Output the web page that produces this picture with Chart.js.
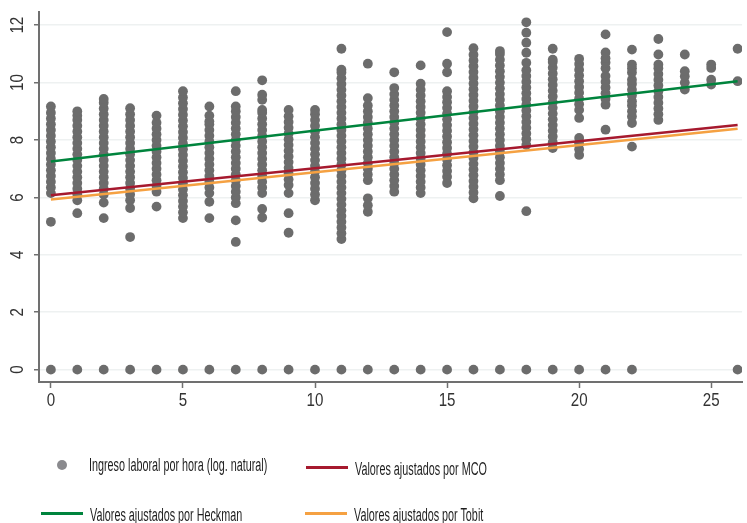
<!DOCTYPE html>
<html>
<head>
<meta charset="utf-8">
<script src="https://cdn.jsdelivr.net/npm/chart.js@4.4.1/dist/chart.umd.min.js"></script>
<style>
    body { margin: 0; background: #fff; }
    #wrap { position: relative; width: 747px; height: 523px; overflow: hidden; }
    .leg-txt {
        position: absolute; white-space: nowrap; font-family: "Liberation Sans", Arial, sans-serif;
        font-size: 18px; line-height: 18px; color: #1e1e1e; transform-origin: 0 0; transform: scaleX(0.6);
    }
    .leg-line { position: absolute; height: 3px; width: 42px; }
</style>
</head>
<body>
<div id="wrap">
    <canvas id="myChart" width="747" height="523"></canvas>
    <div style="position:absolute;left:57px;top:460px;width:10px;height:10px;border-radius:50%;background:#8a8a8e"></div>
    <div class="leg-txt" style="left:89px;top:456px">Ingreso laboral por hora (log. natural)</div>
    <div class="leg-line" style="left:306px;top:466px;background:#a6192e"></div>
    <div class="leg-txt" style="left:355px;top:460px">Valores ajustados por MCO</div>
    <div class="leg-line" style="left:41px;top:512px;background:#00843d"></div>
    <div class="leg-txt" style="left:90px;top:506px">Valores ajustados por Heckman</div>
    <div class="leg-line" style="left:305px;top:512px;background:#f5a142"></div>
    <div class="leg-txt" style="left:354px;top:506px">Valores ajustados por Tobit</div>
</div>
<script>
// years of schooling (x) and observed log hourly wage per year
var schoolingYears = [0, 1, 2, 3, 4, 5, 6, 7, 8, 9, 10, 11, 12, 13, 14, 15, 16, 17, 18, 19, 20, 21, 22, 23, 24, 25, 26];
var logWage = [
    [0, 5.15, 6.15, 6.35, 6.55, 6.75, 6.95, 7.15, 7.35, 7.55, 7.75, 7.95, 8.15, 8.35, 8.55, 8.75, 8.95, 9.17],
    [0, 5.45, 5.9, 6.1, 6.3, 6.5, 6.7, 6.9, 7.1, 7.3, 7.5, 7.7, 7.9, 8.1, 8.3, 8.5, 8.7, 8.85, 9.0],
    [0, 5.28, 5.82, 6.1, 6.3, 6.5, 6.7, 6.9, 7.1, 7.3, 7.5, 7.7, 7.9, 8.1, 8.3, 8.5, 8.7, 8.9, 9.1, 9.3, 9.43],
    [0, 4.62, 5.63, 5.9, 6.1, 6.3, 6.5, 6.7, 6.9, 7.1, 7.3, 7.5, 7.7, 7.9, 8.1, 8.3, 8.5, 8.7, 8.9, 9.11],
    [0, 5.68, 6.2, 6.4, 6.6, 6.8, 7.0, 7.2, 7.4, 7.6, 7.8, 8.0, 8.2, 8.4, 8.6, 8.85],
    [0, 5.28, 5.48, 5.68, 5.88, 6.08, 6.28, 6.48, 6.68, 6.88, 7.08, 7.28, 7.48, 7.68, 7.88, 8.08, 8.28, 8.48, 8.68, 8.88, 9.08, 9.28, 9.48, 9.7],
    [0, 5.28, 5.85, 6.15, 6.35, 6.55, 6.75, 6.95, 7.15, 7.35, 7.55, 7.75, 7.95, 8.15, 8.35, 8.55, 8.65, 8.85, 9.17],
    [0, 4.45, 5.2, 5.8, 6.0, 6.2, 6.4, 6.6, 6.8, 7.0, 7.2, 7.4, 7.6, 7.8, 8.0, 8.2, 8.4, 8.6, 8.8, 9.0, 9.17, 9.7],
    [0, 5.3, 5.6, 6.15, 6.35, 6.55, 6.75, 6.95, 7.15, 7.35, 7.55, 7.75, 7.95, 8.15, 8.35, 8.55, 8.75, 8.95, 9.05, 9.4, 9.58, 10.08],
    [0, 4.77, 5.45, 6.15, 6.43, 6.63, 6.83, 7.03, 7.23, 7.43, 7.63, 7.83, 8.03, 8.23, 8.43, 8.63, 8.83, 9.05],
    [0, 5.9, 6.1, 6.3, 6.5, 6.7, 6.9, 7.1, 7.3, 7.5, 7.7, 7.9, 8.1, 8.3, 8.5, 8.7, 8.9, 9.05],
    [0, 4.55, 4.75, 4.95, 5.15, 5.35, 5.55, 5.75, 5.95, 6.15, 6.35, 6.55, 6.75, 6.95, 7.15, 7.35, 7.55, 7.75, 7.95, 8.15, 8.35, 8.55, 8.75, 8.95, 9.15, 9.35, 9.55, 9.75, 9.95, 10.15, 10.35, 10.45, 11.18],
    [0, 5.5, 5.73, 5.97, 6.6, 6.8, 7.0, 7.2, 7.4, 7.6, 7.8, 8.0, 8.2, 8.4, 8.6, 8.8, 9.0, 9.2, 9.46, 10.66],
    [0, 6.2, 6.4, 6.6, 6.8, 7.0, 7.2, 7.4, 7.6, 7.8, 8.0, 8.2, 8.4, 8.6, 8.8, 9.0, 9.2, 9.4, 9.6, 9.81, 10.36],
    [0, 6.15, 6.35, 6.55, 6.75, 6.95, 7.15, 7.35, 7.55, 7.75, 7.95, 8.15, 8.35, 8.55, 8.75, 8.95, 9.15, 9.35, 9.55, 9.75, 9.96, 10.6],
    [0, 6.5, 6.72, 6.92, 7.12, 7.32, 7.52, 7.72, 7.92, 8.12, 8.32, 8.52, 8.72, 8.92, 9.12, 9.32, 9.5, 9.7, 10.36, 10.66, 11.76],
    [0, 5.97, 6.17, 6.37, 6.57, 6.77, 6.97, 7.17, 7.37, 7.57, 7.77, 7.97, 8.17, 8.37, 8.57, 8.77, 8.97, 9.17, 9.37, 9.57, 9.77, 9.97, 10.17, 10.37, 10.57, 10.77, 10.97, 11.2],
    [0, 6.05, 6.6, 6.8, 7.0, 7.2, 7.4, 7.6, 7.8, 8.0, 8.2, 8.4, 8.6, 8.8, 9.0, 9.2, 9.4, 9.6, 9.8, 10.0, 10.2, 10.4, 10.6, 10.8, 11.0, 11.1],
    [0, 5.52, 7.83, 8.03, 8.23, 8.43, 8.63, 8.83, 9.03, 9.23, 9.43, 9.63, 9.83, 10.03, 10.23, 10.43, 10.69, 11.04, 11.39, 11.74, 12.1],
    [0, 7.72, 7.92, 8.12, 8.32, 8.52, 8.72, 8.92, 9.12, 9.32, 9.52, 9.72, 9.92, 10.12, 10.32, 10.52, 10.72, 10.8, 11.18],
    [0, 7.48, 7.68, 7.88, 8.07, 8.77, 9.05, 9.25, 9.45, 9.65, 9.85, 10.05, 10.25, 10.45, 10.65, 10.83],
    [0, 8.36, 9.23, 9.43, 9.63, 9.83, 10.03, 10.23, 10.5, 10.7, 10.85, 11.05, 11.68],
    [0, 7.77, 8.59, 8.82, 9.0, 9.2, 9.35, 9.55, 9.75, 9.95, 10.1, 10.35, 10.5, 10.63, 11.15],
    [8.7, 8.9, 9.1, 9.3, 9.5, 9.7, 9.9, 10.1, 10.3, 10.5, 10.63, 10.98, 11.52],
    [9.76, 10.0, 10.22, 10.4, 10.98],
    [9.93, 10.1, 10.51, 10.63],
    [0, 10.05, 11.18]
];

// fitted lines (value at 0 and 26 years)
var fitYears = [0, 26];
var mcoFit = [6.08, 8.52];
var heckmanFit = [7.25, 10.05];
var tobitFit = [5.93, 8.39];

var xTicks = [0, 5, 10, 15, 20, 25];
var yTicks = [0, 2, 4, 6, 8, 10, 12];

var labelFont = '18px "Liberation Sans", Arial, sans-serif';
var axisGray = '#707070';

function pairs(xs, ys) {
    return xs.map(function (x, i) { return {x: x, y: ys[i]}; });
}

var points = [];
schoolingYears.forEach(function (yr, i) {
    logWage[i].forEach(function (v) {
        points.push({x: yr, y: v});
    });
});

// tick labels drawn by hand: narrow glyphs, y labels rotated like the original
var axisLabels = {
    id: 'axisLabels',
    afterDraw: function (chart) {
        var ctx = chart.ctx, xs = chart.scales.x, ys = chart.scales.y;
        ctx.save();
        ctx.fillStyle = '#333';
        ctx.font = labelFont;
        ctx.textAlign = 'center';
        ctx.textBaseline = 'middle';
        yTicks.forEach(function (v) {
            ctx.save();
            ctx.translate(17, ys.getPixelForValue(v));
            ctx.rotate(-Math.PI / 2);
            ctx.scale(0.84, 1);
            ctx.fillText(String(v), 0, 1);
            ctx.restore();
        });
        xTicks.forEach(function (v) {
            ctx.save();
            ctx.translate(xs.getPixelForValue(v), ys.bottom + 19);
            ctx.scale(0.84, 1);
            ctx.fillText(String(v), 0, 0);
            ctx.restore();
        });
        ctx.restore();
    }
};

var ctx = document.getElementById('myChart');
var myChart = new Chart(ctx, {
    type: 'scatter',
    data: {
        datasets: [{
            type: 'line',
            label: 'Valores ajustados por Heckman',
            data: pairs(fitYears, heckmanFit),
            borderColor: '#00843d',
            borderWidth: 2.5,
            pointRadius: 0,
            order: 1
        }, {
            type: 'line',
            label: 'Valores ajustados por MCO',
            data: pairs(fitYears, mcoFit),
            borderColor: '#a6192e',
            borderWidth: 2.5,
            pointRadius: 0,
            order: 2
        }, {
            type: 'line',
            label: 'Valores ajustados por Tobit',
            data: pairs(fitYears, tobitFit),
            borderColor: '#f5a142',
            borderWidth: 2.5,
            pointRadius: 0,
            order: 3
        }, {
            label: 'Ingreso laboral por hora (log. natural)',
            data: points,
            backgroundColor: '#6c6c6c',
            borderWidth: 0,
            pointRadius: 4.9,
            order: 4
        }]
    },
    options: {
        responsive: false,
        animation: false,
        devicePixelRatio: 1,
        layout: {padding: {top: 12, right: 0, bottom: 101, left: 0}},
        plugins: {legend: {display: false}, tooltip: {enabled: false}},
        scales: {
            x: {
                type: 'linear',
                min: -0.45,
                max: 26.17,
                afterBuildTicks: function (scale) {
                    scale.ticks = xTicks.map(function (v) { return {value: v}; });
                },
                afterFit: function (scale) { scale.height = 40; },
                grid: {drawOnChartArea: false, drawTicks: true, tickLength: 6, tickColor: axisGray, tickWidth: 1.5},
                border: {color: axisGray, width: 2},
                ticks: {display: false}
            },
            y: {
                type: 'linear',
                min: -0.43,
                max: 12.46,
                afterBuildTicks: function (scale) {
                    scale.ticks = yTicks.map(function (v) { return {value: v}; });
                },
                afterFit: function (scale) { scale.width = 39; },
                grid: {color: '#eef1f1', lineWidth: 1.5, drawTicks: true, tickLength: 5, tickColor: axisGray, tickWidth: 1.5},
                border: {color: axisGray, width: 2},
                ticks: {display: false}
            }
        }
    },
    plugins: [axisLabels]
});
</script>
</body>
</html>
